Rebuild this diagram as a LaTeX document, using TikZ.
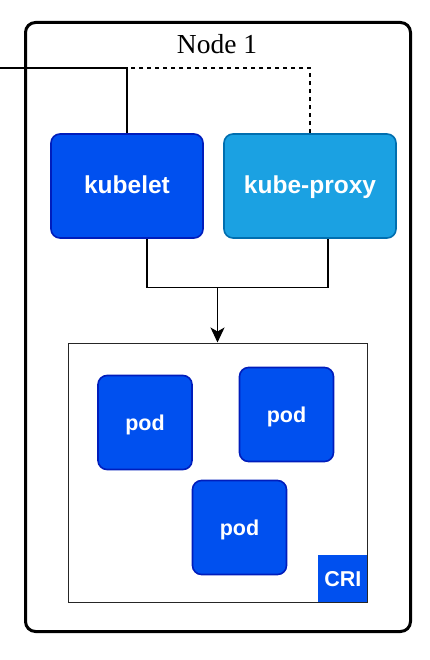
\documentclass[tikz,border=0pt]{standalone}
\usepackage{fontspec}
\setmainfont{Liberation Serif}
\newfontfamily\boxfont{Liberation Sans}
\usetikzlibrary{arrows.meta}
\definecolor{kubeblue}{HTML}{0050EF}
\definecolor{kubeline}{HTML}{001DBC}
\definecolor{proxyblue}{HTML}{1BA1E2}
\definecolor{proxyline}{HTML}{006EAF}
\tikzset{
    comp/.style={draw=kubeline, fill=kubeblue, line width=1.6pt, rounded corners=9pt,
        text=white, font=\boxfont\bfseries\fontsize{24.5}{28}\selectfont,
        text height=17.6pt, text depth=2.6pt, inner sep=0pt,
        minimum width=152pt, minimum height=104pt},
    podbox/.style={comp, minimum width=94pt, minimum height=94pt,
        font=\boxfont\bfseries\fontsize{21.5}{25}\selectfont,
        text height=15.5pt, text depth=0.5pt},
    wire/.style={line width=1.3pt},
}

\begin{document}
\begin{tikzpicture}[x=1pt,y=-1pt]
    \useasboundingbox (0,0) rectangle (430,660);
    % Node 1
    \node[draw, line width=3pt, rounded corners=10pt, minimum width=385pt, minimum height=609pt]
        (node1) at (218,327) {};
    \node[font=\fontsize{27.5}{30}\selectfont] (title) at (217,44) {Node 1};
    \node[comp] (kubelet) at (127,186) {kubelet};
    \node[comp, draw=proxyline, fill=proxyblue, minimum width=172pt] (proxy) at (310,186) {kube-proxy};
    % runtime
    \node[draw=black!85, line width=1pt, minimum width=299pt, minimum height=259pt]
        (runtime) at (217.5,472.5) {};
    \node[podbox] (pod1) at (145,422.5) {pod};
    \node[podbox] (pod2) at (286.5,414.5) {pod};
    \node[podbox] (pod3) at (239.5,527.5) {pod};
    \node[fill=kubeblue, anchor=south east, inner sep=0pt, minimum width=49pt, minimum height=47pt,
        text=white, font=\boxfont\bfseries\fontsize{21.5}{25}\selectfont,
        text height=15.5pt, text depth=0pt] (cri) at (runtime.south east) {CRI};
    % wires
    \coordinate (west) at (0,68);
    \draw[wire] (kubelet.north) |- (west);
    \draw[wire, dash pattern=on 4pt off 4pt] (proxy.north) |- (kubelet.north |- west);
    \path (runtime.north) ++(0,-55) coordinate (join);
    \draw[wire] ([xshift=20pt]kubelet.south) |- (join) -| ([xshift=18pt]proxy.south);
    \draw[wire, -{Stealth[length=15pt, width=14pt, inset=4pt]}] (join) -- (runtime.north);
\end{tikzpicture}
\end{document}
